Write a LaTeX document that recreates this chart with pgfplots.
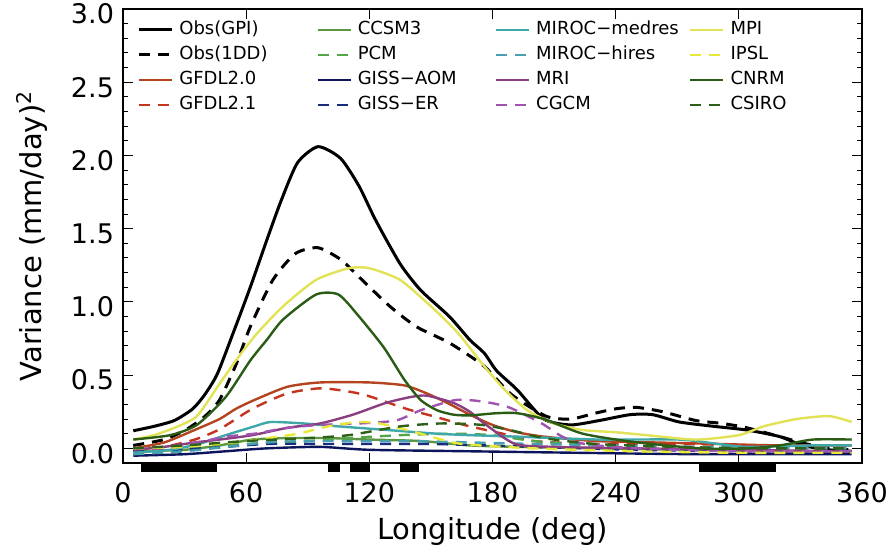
\documentclass[border=0pt]{standalone}
\usepackage{fontspec}
\setmainfont{DejaVu Sans}
\usepackage{pgfplots}
\pgfplotsset{compat=1.18}

\definecolor{gfdlA}{RGB}{180,68,32}
\definecolor{gfdlB}{RGB}{196,52,30}
\definecolor{ccsm}{RGB}{92,150,62}
\definecolor{pcm}{RGB}{84,164,72}
\definecolor{gissA}{RGB}{12,20,92}
\definecolor{gissB}{RGB}{24,44,124}
\definecolor{mirocA}{RGB}{62,168,168}
\definecolor{mirocB}{RGB}{70,160,176}
\definecolor{mri}{RGB}{138,62,128}
\definecolor{cgcm}{RGB}{160,84,176}
\definecolor{mpi}{RGB}{226,226,86}
\definecolor{ipsl}{RGB}{232,232,60}
\definecolor{cnrm}{RGB}{42,92,22}
\definecolor{csiro}{RGB}{46,96,26}

\pgfplotsset{
  obs/.style={black, line width=1.5pt, smooth, tension=0.4},
  mdl/.style={line width=1.2pt, smooth, tension=0.4},
  dsh/.style={dash pattern=on 5.5pt off 4pt},
}

\newcommand{\lgtxt}[2][68.5pt]{\makebox[#1][l]{#2}}

\begin{document}
\begin{tikzpicture}
\begin{axis}[
  scale only axis, width=369.5pt, height=227pt,
  xmin=0, xmax=360, ymin=-0.1, ymax=3.0,
  clip=false,
  xtick={0,60,...,360}, ytick={0,0.5,...,3.0},
  minor y tick num=4,
  tick align=inside,
  major tick length=5pt, minor tick length=2.5pt,
  axis line style={line width=0.6pt},
  every tick/.style={black, line width=0.5pt},
  /pgf/number format/assume math mode=true,
  y tick label style={/pgf/number format/fixed, /pgf/number format/fixed zerofill, /pgf/number format/precision=1},
  ticklabel style={font=\fontsize{13.5}{15}\selectfont},
  xticklabel style={anchor=base, yshift=-20pt},
  yticklabel style={anchor=east, xshift=-1pt, yshift=-2.5pt},
  xlabel={Longitude (deg)},
  ylabel={Variance (mm/day)\textsuperscript{2}},
  label style={font=\fontsize{14.5}{16}\selectfont},
  xlabel style={at={([yshift=-38.5pt]axis description cs:0.5,0)}, anchor=base},
  ylabel style={at={([xshift=-45.5pt]axis description cs:0,0.5)}, anchor=center},
  legend columns=4, transpose legend,
  legend cell align=left,
  legend style={draw=none, fill=none, at={(axis description cs:0,1)}, anchor=north west,
    xshift=7pt, yshift=-6pt, font=\fontsize{9}{10}\selectfont, inner sep=0pt, row sep=4pt,
    nodes={inner sep=0pt, text height=6.5pt, text depth=2pt},
    /tikz/every odd column/.append style={column sep=3pt}},
  legend image code/.code={\draw[#1] (0pt,0pt) -- (16.5pt,0pt);},
]
\coordinate (bl) at (rel axis cs:0,0);
\coordinate (tr) at (rel axis cs:1,1);

% observations
\addplot[obs] coordinates {
 (5,0.12) (15,0.15) (25,0.19) (34,0.27) (40,0.37) (46,0.51) (54,0.80) (62,1.10)
 (70,1.42) (77,1.69) (85,1.95) (95,2.06) (106,1.98) (115,1.79) (123,1.56) (135,1.26)
 (145,1.08) (159,0.90) (169,0.74) (176,0.65) (182,0.53) (192,0.40) (205,0.20) (218,0.16)
 (232,0.19) (247,0.23) (258,0.23) (271,0.18) (288,0.15) (304,0.125) (320,0.08) (331,0.02)
 (344,-0.01) (355,-0.02)};
\addlegendentry{\lgtxt{Obs(GPI)}}
\addplot[obs, dsh] coordinates {
 (5,0.02) (20,0.06) (31,0.13) (40,0.22) (47,0.33) (55,0.57) (62,0.83) (73,1.15)
 (84,1.33) (95,1.37) (106,1.29) (115,1.17) (130,0.97) (143,0.83) (159,0.72) (176,0.56)
 (189,0.37) (206,0.22) (218,0.20) (230,0.24) (240,0.27) (250,0.28) (263,0.25) (279,0.19)
 (292,0.17) (304,0.14) (320,0.08) (333,0.03) (345,0.0) (355,-0.01)};
\addlegendentry{\lgtxt{Obs(1DD)}}

% GFDL
\addplot[mdl, gfdlA] coordinates {
 (5,0.0) (20,0.04) (34,0.12) (47,0.20) (55,0.27) (64,0.33) (80,0.42) (96,0.45)
 (120,0.45) (137,0.43) (148,0.375) (158,0.31) (169,0.23) (180,0.16) (192,0.11) (205,0.08)
 (230,0.05) (260,0.04) (290,0.03) (320,0.02) (355,0.02)};
\addlegendentry{\lgtxt{GFDL2.0}}
\addplot[mdl, dsh, gfdlB] coordinates {
 (5,-0.01) (20,0.01) (35,0.06) (47,0.13) (63,0.27) (80,0.375) (96,0.41) (109,0.39)
 (119,0.36) (138,0.27) (151,0.22) (161,0.18) (169,0.15) (185,0.10) (200,0.05) (230,0.03)
 (270,0.03) (310,0.02) (355,0.02)};
\addlegendentry{\lgtxt{GFDL2.1}}

% CCSM3 / PCM
\addplot[mdl, ccsm] coordinates {
 (5,-0.02) (30,-0.01) (47,0.02) (63,0.06) (80,0.07) (100,0.07) (120,0.06) (145,0.05)
 (169,0.02) (193,0.01) (230,0.0) (270,-0.01) (310,-0.02) (355,-0.03)};
\addlegendentry{\lgtxt{CCSM3}}
\addplot[mdl, dsh, pcm] coordinates {
 (5,-0.02) (30,0.0) (60,0.03) (90,0.05) (110,0.07) (135,0.09) (160,0.10) (180,0.09)
 (200,0.05) (230,0.02) (280,0.0) (320,-0.02) (355,-0.02)};
\addlegendentry{\lgtxt{PCM}}

% GISS
\addplot[mdl, gissA] coordinates {
 (5,-0.05) (30,-0.04) (50,-0.02) (70,0.0) (96,0.01) (120,-0.01) (169,-0.02) (220,-0.03)
 (280,-0.04) (355,-0.04)};
\addlegendentry{\lgtxt{GISS−AOM}}
\addplot[mdl, dsh, gissB] coordinates {
 (5,-0.02) (40,0.0) (70,0.03) (100,0.03) (150,0.03) (200,0.01) (250,-0.01) (300,-0.02)
 (355,-0.02)};
\addlegendentry{\lgtxt{GISS−ER}}

% MIROC
\addplot[mdl, mirocA] coordinates {
 (5,-0.03) (23,-0.01) (37,0.03) (50,0.09) (64,0.15) (72,0.18) (88,0.17) (105,0.15)
 (129,0.125) (153,0.10) (169,0.09) (192,0.08) (232,0.06) (271,0.06) (290,0.03) (304,0.01)
 (336,0.02) (355,0.02)};
\addlegendentry{\lgtxt[76.5pt]{MIROC−medres}}
\addplot[mdl, dsh, mirocB] coordinates {
 (5,-0.04) (30,-0.02) (50,0.01) (70,0.04) (90,0.05) (110,0.05) (140,0.05) (170,0.04)
 (200,0.03) (240,0.02) (280,0.01) (320,0.0) (355,0.0)};
\addlegendentry{\lgtxt[76.5pt]{MIROC−hires}}

% MRI / CGCM
\addplot[mdl, mri] coordinates {
 (5,-0.01) (20,0.01) (35,0.04) (47,0.06) (63,0.09) (80,0.14) (96,0.17) (112,0.23)
 (128,0.31) (140,0.35) (148,0.36) (161,0.31) (169,0.25) (176,0.17) (191,0.03) (210,0.01)
 (250,0.0) (300,-0.01) (355,-0.02)};
\addlegendentry{\lgtxt[76.5pt]{MRI}}
\addplot[mdl, dsh, cgcm] coordinates {
 (5,0.0) (20,0.0) (31,0.03) (40,0.05) (50,0.08) (64,0.10) (80,0.14) (96,0.16)
 (115,0.17) (133,0.19) (145,0.26) (162,0.33) (175,0.32) (188,0.28) (204,0.17) (214,0.08)
 (225,0.03) (250,0.0) (300,-0.02) (355,-0.02)};
\addlegendentry{\lgtxt[76.5pt]{CGCM}}

% MPI / IPSL
\addplot[mdl, mpi] coordinates {
 (5,0.06) (15,0.09) (25,0.14) (36,0.22) (47,0.44) (55,0.60) (65,0.78) (78,0.97)
 (94,1.15) (110,1.23) (120,1.23) (135,1.15) (150,0.97) (163,0.79) (176,0.56) (186,0.40)
 (197,0.26) (210,0.17) (224,0.125) (240,0.11) (255,0.09) (279,0.06) (300,0.09) (312,0.15)
 (328,0.20) (344,0.22) (355,0.18)};
\addlegendentry{\lgtxt{MPI}}
\addplot[mdl, dsh, ipsl] coordinates {
 (5,0.0) (30,0.01) (60,0.05) (85,0.10) (100,0.15) (115,0.18) (125,0.17) (140,0.12)
 (150,0.08) (165,0.03) (200,0.0) (250,-0.02) (300,-0.03) (355,-0.03)};
\addlegendentry{\lgtxt{IPSL}}

% CNRM / CSIRO
\addplot[mdl, cnrm] coordinates {
 (5,0.06) (23,0.09) (36,0.16) (50,0.35) (62,0.60) (70,0.74) (78,0.88) (94,1.05)
 (105,1.05) (115,0.90) (127,0.69) (137,0.47) (145,0.33) (153,0.26) (161,0.23) (169,0.225)
 (182,0.24) (192,0.24) (205,0.20) (224,0.10) (248,0.045) (281,0.0) (304,0.0) (320,0.02)
 (336,0.06) (355,0.06)};
\addlegendentry{\lgtxt{CNRM}}
\addplot[mdl, dsh, csiro] coordinates {
 (5,0.0) (30,0.02) (60,0.05) (90,0.07) (110,0.09) (135,0.15) (155,0.17) (175,0.16)
 (190,0.12) (205,0.07) (230,0.03) (270,0.01) (310,0.0) (355,0.0)};
\addlegendentry{\lgtxt{CSIRO}}

% black bars below the axis
\addplot[fill=black, draw=none, forget plot] coordinates {(9,-0.105) (45.6,-0.105) (45.6,-0.16) (9,-0.16)} -- cycle;
\addplot[fill=black, draw=none, forget plot] coordinates {(100,-0.105) (105.7,-0.105) (105.7,-0.16) (100,-0.16)} -- cycle;
\addplot[fill=black, draw=none, forget plot] coordinates {(110.6,-0.105) (120.3,-0.105) (120.3,-0.16) (110.6,-0.16)} -- cycle;
\addplot[fill=black, draw=none, forget plot] coordinates {(134.9,-0.105) (144.3,-0.105) (144.3,-0.16) (134.9,-0.16)} -- cycle;
\addplot[fill=black, draw=none, forget plot] coordinates {(280.7,-0.105) (318,-0.105) (318,-0.16) (280.7,-0.16)} -- cycle;
\end{axis}
\pgfresetboundingbox
\path ([shift={(-61.5pt,-46.5pt)}]bl) rectangle ([shift={(16pt,4.5pt)}]tr);
\end{tikzpicture}
\end{document}
